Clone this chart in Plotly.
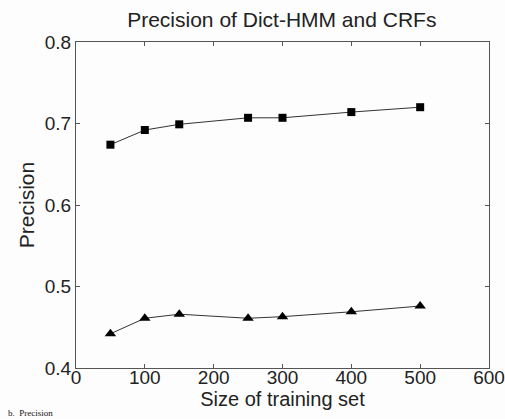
import plotly.graph_objects as go

train_sizes = [50, 100, 150, 250, 300, 400, 500]
dict_hmm_precision = [0.674, 0.692, 0.699, 0.707, 0.707, 0.714, 0.720]
crf_precision = [0.442, 0.461, 0.466, 0.461, 0.463, 0.469, 0.476]
x_ticks = [0, 100, 200, 300, 400, 500, 600]
y_ticks = [0.4, 0.5, 0.6, 0.7, 0.8]

fig = go.Figure()
fig.add_trace(go.Scatter(
    x=train_sizes, y=dict_hmm_precision, mode="lines+markers",
    line=dict(color="#333333", width=1),
    marker=dict(symbol="square", size=8, color="black"),
    name="Dict-HMM", showlegend=False, cliponaxis=False))
fig.add_trace(go.Scatter(
    x=train_sizes, y=crf_precision, mode="lines+markers",
    line=dict(color="#333333", width=1),
    marker=dict(symbol="triangle-up", size=10, color="black"),
    name="CRFs", showlegend=False, cliponaxis=False))

axis_common = dict(
    showline=True, linecolor="#555555", linewidth=1, mirror="ticks",
    ticks="inside", ticklen=4, tickcolor="#555555", showgrid=False,
    zeroline=False, automargin=False,
    tickfont=dict(family="Arial", size=19, color="#222222"))

fig.update_layout(
    width=505, height=419,
    margin=dict(l=76, r=16, t=42, b=51),
    paper_bgcolor="#fdfdfd", plot_bgcolor="#fdfdfd",
    font=dict(family="Arial", color="#222222"),
    title=dict(text="Precision of Dict-HMM and CRFs", x=0.558, xanchor="center",
               y=0.952, yanchor="middle", automargin=False,
               font=dict(size=21, color="#222222")),
    xaxis=dict(range=[0, 600], tickvals=x_ticks, ticktext=[str(v) for v in x_ticks],
               title=dict(text="Size of training set", font=dict(size=20), standoff=0),
               ticklabelstandoff=-8, **axis_common),
    yaxis=dict(range=[0.4, 0.8], tickvals=y_ticks, ticktext=[f"{v:.1f}" for v in y_ticks],
               title=dict(text="Precision", font=dict(size=21), standoff=4),
               **axis_common),
)
fig.add_annotation(text="b.  Precision", xref="paper", yref="paper", x=-0.17, y=-0.118,
                   xanchor="left", yanchor="top", showarrow=False,
                   font=dict(family="Liberation Serif", size=9, color="#111111"))

fig.write_html("out.html", config={"displayModeBar": False},
               post_script="document.body.style.margin='0px';")
